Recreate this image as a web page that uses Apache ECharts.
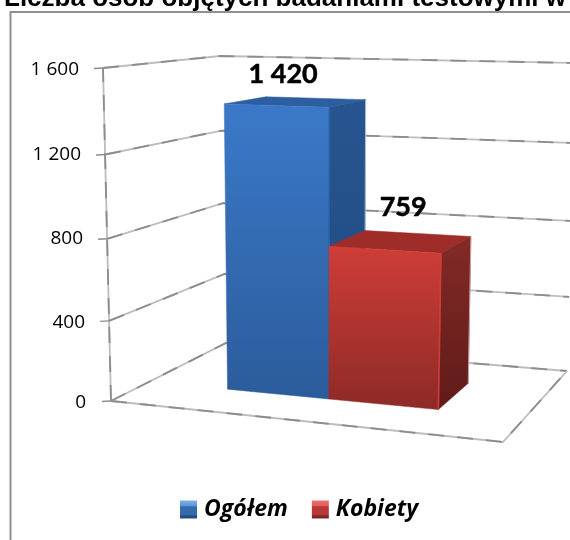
<!DOCTYPE html>
<html>
<head>
<meta charset="utf-8">
<style>html,body{margin:0;padding:0;background:#fff}#c{width:570px;height:540px}</style>
<script src="https://cdn.jsdelivr.net/npm/echarts@6/dist/echarts.min.js"></script>
</head>
<body>
<div id="c"></div>
<script>
// ---- data ----
var categories = ['Liczba osób'];
var seriesNames = ['Ogółem', 'Kobiety'];
var ogolemValues = [1420];
var kobietyValues = [759];
var tickValues = [0, 400, 800, 1200, 1600];
var tickLabels = ['0', '400', '800', '1 200', '1 600'];
var titleText = 'Liczba osób objętych badaniami testowymi w';

// ---- scene layout (box of the 3D chart, not data) ----
var FLOOR = [[111,401],[503,442],[567,371],[226,343]];   // u0d0,u1d0,u1d1,u0d1
var ROOF  = [[103,68],[512.7,77.9],[576,63],[220,56]];
var W = 0.95;
var BAR_U = [[0.228,0.507],[0.507,0.79]];
var BAR_D = [0.30,0.69];
var LABEL_OFFSET = [[-13,-27],[2,-34]];

function homography(q){
  var x0=q[0][0],y0=q[0][1],x1=q[1][0],y1=q[1][1],x2=q[2][0],y2=q[2][1],x3=q[3][0],y3=q[3][1];
  var dx1=x1-x2,dx2=x3-x2,sx=x0-x1+x2-x3,dy1=y1-y2,dy2=y3-y2,sy=y0-y1+y2-y3;
  var det=dx1*dy2-dx2*dy1;
  var g=(sx*dy2-dx2*sy)/det,h=(dx1*sy-sx*dy1)/det;
  var a=x1-x0+g*x1,b=x3-x0+h*x3,d=y1-y0+g*y1,e=y3-y0+h*y3;
  return function(u,v){var k=g*u+h*v+1;return [(a*u+b*v+x0)/k,(d*u+e*v+y0)/k];};
}
var floorH=homography(FLOOR), roofH=homography(ROOF);
function project(api,u,d,val){
  var y0=api.coord([0,0])[1], yMax=api.coord([0,tickValues[tickValues.length-1]])[1];
  var t=(y0-api.coord([0,val])[1])/(y0-yMax);
  var f=floorH(u,d), r=roofH(u,d), k=(1-t)+W*t;
  return [(f[0]*(1-t)+r[0]*W*t)/k,(f[1]*(1-t)+r[1]*W*t)/k];
}
function grad(a,b){return new echarts.graphic.LinearGradient(0,0,0,1,[{offset:0,color:a},{offset:1,color:b}]);}
function poly(pts,fill,z){return {type:'polygon',shape:{points:pts},style:{fill:fill,stroke:fill,lineWidth:0.5},z2:z||0};}
function line(pts,color,w,dash){return {type:'polyline',shape:{points:pts},style:{fill:null,stroke:color,lineWidth:w,lineDash:dash||null},silent:true};}
function blotchy(pts){return [line(pts,'#bdbdbd',1.8),line(pts,'#8c8c8c',1.8,[16,13])];}

function renderFrame(params,api){
  var v=api.value(1);
  var a=project(api,0,0,v), b=project(api,0,1,v), c=project(api,1,1,v);
  var items=[line([[a[0]-9,a[1]+0.5],a],'#8c8c8c',1.4)].concat(blotchy([a,b,c]));
  if(v===0){
    var fr=project(api,1,0,0);
    items=items.concat(blotchy([a,fr,c]));
    var top=project(api,0,0,tickValues[tickValues.length-1]);
    items=items.concat(blotchy([a,top]));
  }
  return {type:'group',children:items};
}
var STYLES=[
 {front:['#3b79c8','#2b5c9b'],side:['#27558f','#1f4a80'],top:'#2d5e9f',edge:'#a9bfdc',hl:'#2a62a8'},
 {front:['#cf3d38','#8d2a27'],side:['#832a26','#5f1b19'],top:'#9e2c28',edge:'#c9a0a0',hl:'#cf3d38'}
];
function fmt(v){return String(v).replace(/\B(?=(\d{3})+$)/g,' ');}
function barRenderer(idx){
  return function(params,api){
    var v=api.value(1), U=BAR_U[idx], s=STYLES[idx], d0=BAR_D[0], d1=BAR_D[1];
    var p=function(u,d,val){return project(api,u,d,val);};
    var front=[p(U[0],d0,0),p(U[1],d0,0),p(U[1],d0,v),p(U[0],d0,v)];
    var side=[p(U[1],d0,0),p(U[1],d1,0),p(U[1],d1,v),p(U[1],d0,v)];
    var top=[p(U[0],d0,v),p(U[1],d0,v),p(U[1],d1,v),p(U[0],d1,v)];
    var c=p((U[0]+U[1])/2,(d0+d1)/2,v);
    var o=LABEL_OFFSET[idx];
    return {type:'group',children:[
      poly(top,s.top),
      poly(side,grad(s.side[0],s.side[1])),
      poly(front,grad(s.front[0],s.front[1])),
      line([side[1],side[2]],s.edge,1),
      line([front[1],front[2]],s.hl,1.6),
      {type:'text',x:c[0]+o[0],y:c[1]+o[1],style:{text:fmt(v),fill:'#000',stroke:'#000',lineWidth:0.5,font:'bold 27px Lato',align:'center',verticalAlign:'middle'}}
    ]};
  };
}

var richLabels={
  t0:{padding:[4,0,0,0]},
  t400:{padding:[10,1,0,0]},
  t800:{padding:[10,3,0,0]},
  t1200:{padding:[9,5,0,0]},
  t1600:{padding:[5,7,0,0]}
};
var chart=echarts.init(document.getElementById('c'),null,{renderer:'canvas'});
chart.setOption({
  animation:false,
  backgroundColor:'#fff',
  title:{text:titleText,left:4,top:-14,padding:0,textStyle:{fontFamily:'Liberation Sans',fontWeight:'bold',fontSize:26,color:'#000'}},
  graphic:[
    {type:'polyline',shape:{points:[[10.5,542],[10.5,12],[572,12]]},style:{fill:null,stroke:'#8f8f8f',lineWidth:2},silent:true,z:0}
  ],
  legend:{
    left:180,top:498,padding:0,itemWidth:17,itemHeight:18,itemGap:24,icon:'rect',selectedMode:false,
    textStyle:{fontFamily:'Open Sans',fontWeight:'bold',fontStyle:'italic',fontSize:23,color:'#000',padding:[0,0,0,2]},
    data:[
      {name:seriesNames[0],itemStyle:{color:new echarts.graphic.LinearGradient(0,0,0,1,[{offset:0,color:'#7fb0e8'},{offset:0.3,color:'#5b94d8'},{offset:0.35,color:'#356aaa'},{offset:0.8,color:'#356aaa'},{offset:0.85,color:'#254d7e'},{offset:1,color:'#254d7e'}])}},
      {name:seriesNames[1],itemStyle:{color:new echarts.graphic.LinearGradient(0,0,0,1,[{offset:0,color:'#f07070'},{offset:0.3,color:'#e25a58'},{offset:0.35,color:'#b83a38'},{offset:0.8,color:'#b83a38'},{offset:0.85,color:'#7e2826'},{offset:1,color:'#7e2826'}])}}
    ]
  },
  grid:{left:100,top:67,width:400,height:334,containLabel:false},
  xAxis:{type:'category',data:categories,show:false},
  yAxis:{
    type:'value',min:tickValues[0],max:tickValues[tickValues.length-1],interval:tickValues[1]-tickValues[0],
    axisLine:{show:false},axisTick:{show:false},splitLine:{show:false},
    axisLabel:{margin:14,fontFamily:'Open Sans',fontSize:19,color:'#000',align:'right',
      formatter:function(v){var i=tickValues.indexOf(v);return '{t'+v+'|'+tickLabels[i]+'}';},
      rich:richLabels}
  },
  series:[
    {type:'custom',name:'Siatka',coordinateSystem:'cartesian2d',renderItem:renderFrame,silent:true,z:1,
     data:tickValues.map(function(v){return [categories[0],v];})},
    {type:'custom',name:seriesNames[0],coordinateSystem:'cartesian2d',renderItem:barRenderer(0),z:2,
     data:ogolemValues.map(function(v,i){return [categories[i],v];})},
    {type:'custom',name:seriesNames[1],coordinateSystem:'cartesian2d',renderItem:barRenderer(1),z:3,
     data:kobietyValues.map(function(v,i){return [categories[i],v];})}
  ]
});
</script>
</body>
</html>
